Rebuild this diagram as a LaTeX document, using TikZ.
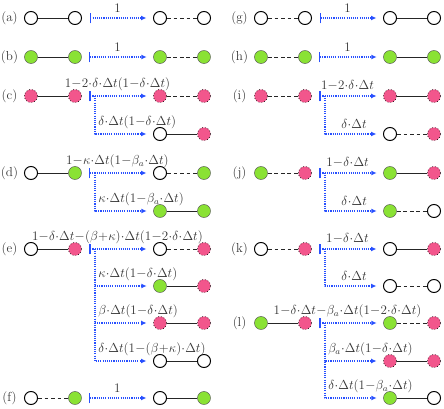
\documentclass[tikz,border=0pt]{standalone}
\usetikzlibrary{arrows.meta}
\definecolor{infgreen}{RGB}{138,226,52}
\definecolor{infpink}{RGB}{242,86,140}
\definecolor{flowblue}{RGB}{40,80,255}
\medmuskip=0.3mu
% two sites and the bond between them
\newcommand{\pair}[6]{%
  \node[#4] (#1l) at (#2,#3) {};
  \node[#5] (#1r) at (#2+44,#3) {};
  \draw[#6] (#1l) -- (#1r);}
\begin{document}
\begin{tikzpicture}[x=0.92pt, y=-0.92pt, line join=round, font=\large,
  site/.style={circle, minimum size=12pt, inner sep=0pt},
  sw/.style={site, draw=black, line width=0.9pt, fill=white},
  sg/.style={site, draw=black!70, line width=0.4pt, fill=infgreen},
  sp/.style={site, draw=black, line width=0.6pt, dotted, fill=infpink},
  link/.style={draw=black!85, line width=0.8pt},
  nolink/.style={link, dash pattern=on 3.5pt off 2.5pt},
  trans/.style={flowblue, line width=1pt, dash pattern=on 1pt off 1pt, shorten <=6.9pt, shorten >=6pt,
    arrows={Bar[width=10pt,line width=1.1pt]-Latex[length=5pt,width=4.5pt]}},
  branch/.style={trans, shorten <=0pt, arrows={-Latex[length=5pt,width=4.5pt]}},
  lab/.style={text=black!80, above=2pt, inner sep=2.5pt},
  blab/.style={text=black!80, anchor=south west, yshift=2pt, inner sep=2.5pt, pos=0.5},
  rowlab/.style={text=black!80}]
\useasboundingbox (0,0) rectangle (444,409);

% (a)
\node[rowlab] (la) at (9.5,18) {(a)};
\pair{a}{31}{18}{sw}{sw}{link}
\pair{a1}{160}{18}{sw}{sw}{nolink}
\draw[trans] (ar) -- node[lab]{$1$} (a1l);

% (b)
\node[rowlab] (lb) at (9.5,57) {(b)};
\pair{b}{31}{57}{sg}{sg}{link}
\pair{b1}{160}{57}{sg}{sg}{nolink}
\draw[trans] (br) -- node[lab]{$1$} (b1l);

% (c)
\node[rowlab] (lc) at (9.5,96) {(c)};
\pair{c}{31}{96}{sp}{sp}{link}
\pair{c1}{160}{96}{sp}{sp}{nolink}
\pair{c2}{160}{134}{sw}{sp}{link}
\draw[trans] (cr) -- node[lab]{$1-2\cdot\delta\cdot\Delta t(1-\delta\cdot\Delta t)$} (c1l);
\path (cr) ++(20,0) coordinate (csp);
\draw[branch] (csp) |- node[blab]{$\delta\cdot\Delta t(1-\delta\cdot\Delta t)$} (c2l);

% (d)
\node[rowlab] (ld) at (9.5,173) {(d)};
\pair{d}{31}{173}{sw}{sg}{link}
\pair{d1}{160}{173}{sw}{sg}{nolink}
\pair{d2}{160}{211}{sg}{sg}{link}
\draw[trans] (dr) -- node[lab]{$1-\kappa\cdot\Delta t(1-\beta_a\cdot\Delta t)$} (d1l);
\path (dr) ++(20,0) coordinate (dsp);
\draw[branch] (dsp) |- node[blab]{$\kappa\cdot\Delta t(1-\beta_a\cdot\Delta t)$} (d2l);

% (e)
\node[rowlab] (le) at (9.5,249) {(e)};
\pair{e}{31}{249}{sw}{sp}{link}
\pair{e1}{160}{249}{sw}{sp}{nolink}
\pair{e2}{160}{286}{sg}{sp}{link}
\pair{e3}{160}{323}{sp}{sp}{link}
\pair{e4}{160}{361}{sw}{sw}{link}
\draw[trans] (er) -- node[lab]{$1-\delta\cdot\Delta t-(\beta+\kappa)\cdot\Delta t(1-2\cdot\delta\cdot\Delta t)$} (e1l);
\path (er) ++(20,0) coordinate (esp);
\draw[branch] (esp) |- node[blab]{$\kappa\cdot\Delta t(1-\delta\cdot\Delta t)$} (e2l);
\draw[branch] (esp) |- node[blab]{$\beta\cdot\Delta t(1-\delta\cdot\Delta t)$} (e3l);
\draw[branch] (esp) |- node[blab]{$\delta\cdot\Delta t(1-(\beta+\kappa)\cdot\Delta t)$} (e4l);

% (f)
\node[rowlab] (lf) at (9.5,398) {(f)};
\pair{f}{31}{398}{sw}{sg}{nolink}
\pair{f1}{160}{398}{sw}{sg}{link}
\draw[trans] (fr) -- node[lab]{$1$} (f1l);

% (g)
\node[rowlab] (lg) at (239.5,18) {(g)};
\pair{g}{261}{18}{sw}{sw}{nolink}
\pair{g1}{390}{18}{sw}{sw}{link}
\draw[trans] (gr) -- node[lab]{$1$} (g1l);

% (h)
\node[rowlab] (lh) at (239.5,57) {(h)};
\pair{h}{261}{57}{sg}{sg}{nolink}
\pair{h1}{390}{57}{sg}{sg}{link}
\draw[trans] (hr) -- node[lab]{$1$} (h1l);

% (i)
\node[rowlab] (li) at (239.5,96) {(i)};
\pair{i}{261}{96}{sp}{sp}{nolink}
\pair{i1}{390}{96}{sp}{sp}{link}
\pair{i2}{390}{134}{sw}{sp}{nolink}
\draw[trans] (ir) -- node[lab]{$1-2\cdot\delta\cdot\Delta t$} (i1l);
\path (ir) ++(20,0) coordinate (isp);
\draw[branch] (isp) |- node[lab, pos=0.75]{$\delta\cdot\Delta t$} (i2l);

% (j)
\node[rowlab] (lj) at (239.5,173) {(j)};
\pair{j}{261}{173}{sg}{sp}{nolink}
\pair{j1}{390}{173}{sg}{sp}{link}
\pair{j2}{390}{211}{sg}{sw}{nolink}
\draw[trans] (jr) -- node[lab]{$1-\delta\cdot\Delta t$} (j1l);
\path (jr) ++(20,0) coordinate (jsp);
\draw[branch] (jsp) |- node[lab, pos=0.75]{$\delta\cdot\Delta t$} (j2l);

% (k)
\node[rowlab] (lk) at (239.5,249) {(k)};
\pair{k}{261}{249}{sw}{sp}{nolink}
\pair{k1}{390}{249}{sw}{sp}{link}
\pair{k2}{390}{286}{sw}{sw}{nolink}
\draw[trans] (kr) -- node[lab]{$1-\delta\cdot\Delta t$} (k1l);
\path (kr) ++(20,0) coordinate (ksp);
\draw[branch] (ksp) |- node[lab, pos=0.75]{$\delta\cdot\Delta t$} (k2l);

% (l)
\node[rowlab] (ll) at (239.5,323) {(l)};
\pair{l}{261}{323}{sg}{sp}{link}
\pair{l1}{390}{323}{sg}{sp}{nolink}
\pair{l2}{390}{361}{sp}{sp}{link}
\pair{l3}{390}{398}{sg}{sw}{link}
\draw[trans] (lr) -- node[lab]{$1-\delta\cdot\Delta t-\beta_a\cdot\Delta t(1-2\cdot\delta\cdot\Delta t)$} (l1l);
\path (lr) ++(20,0) coordinate (lsp);
\draw[branch] (lsp) |- node[blab]{$\beta_a\cdot\Delta t(1-\delta\cdot\Delta t)$} (l2l);
\draw[branch] (lsp) |- node[blab]{$\delta\cdot\Delta t(1-\beta_a\cdot\Delta t)$} (l3l);
\end{tikzpicture}
\end{document}
